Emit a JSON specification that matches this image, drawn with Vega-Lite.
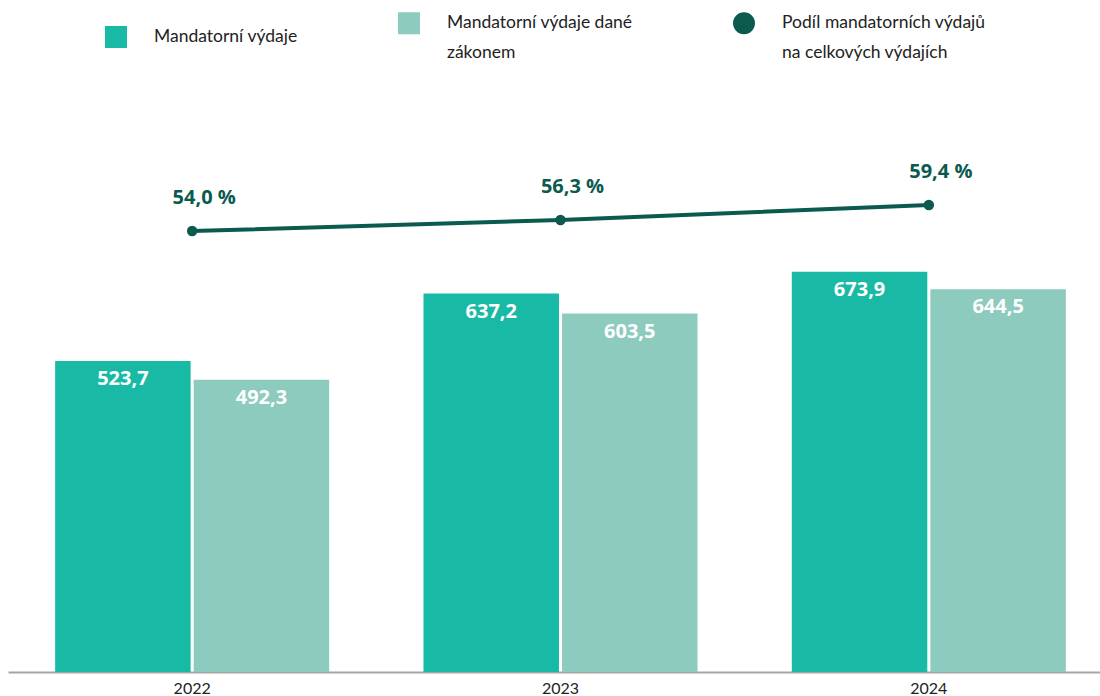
{
  "$schema": "https://vega.github.io/schema/vega-lite/v6.json",
  "width": 1105,
  "height": 582,
  "autosize": {"type": "none"},
  "padding": {"left": 8, "top": 90, "right": 0, "bottom": 24},
  "background": "white",
  "config": {
    "view": {"stroke": null},
    "font": "Lato"
  },
  "datasets": {
    "bars": [
      {"year": "2022", "series": "Mandatorní výdaje", "value": 523.7},
      {"year": "2022", "series": "Mandatorní výdaje dané zákonem", "value": 492.3},
      {"year": "2023", "series": "Mandatorní výdaje", "value": 637.2},
      {"year": "2023", "series": "Mandatorní výdaje dané zákonem", "value": 603.5},
      {"year": "2024", "series": "Mandatorní výdaje", "value": 673.9},
      {"year": "2024", "series": "Mandatorní výdaje dané zákonem", "value": 644.5}
    ],
    "share": [
      {"year": "2022", "share": 54.0},
      {"year": "2023", "share": 56.3},
      {"year": "2024", "share": 59.4}
    ]
  },
  "encoding": {
    "x": {
      "field": "year",
      "type": "nominal",
      "scale": {"paddingInner": 0.256, "paddingOuter": 0.128},
      "axis": {
        "title": null,
        "labelAngle": 0,
        "ticks": false,
        "domainColor": "#a6a6a6",
        "domainWidth": 2,
        "labelFont": "Lato",
        "labelFontSize": 16,
        "labelFontWeight": "normal",
        "labelColor": "#222222",
        "labelPadding": 8,
        "grid": false
      }
    }
  },
  "layer": [
    {
      "data": {"name": "bars"},
      "mark": {"type": "bar"},
      "encoding": {
        "xOffset": {"field": "series", "type": "nominal", "scale": {"paddingInner": 0.022, "paddingOuter": 0}},
        "y": {"field": "value", "type": "quantitative", "scale": {"domain": [0, 980], "nice": false}, "axis": null},
        "color": {
          "field": "series",
          "type": "nominal",
          "scale": {
            "domain": ["Mandatorní výdaje", "Mandatorní výdaje dané zákonem", "Podíl mandatorních výdajů na celkových výdajích"],
            "range": ["#19BAA5", "#8ECBBF", "#0B5A4E"]
          },
          "legend": {
            "title": null,
            "orient": "none",
            "legendX": 97,
            "legendY": -78,
            "direction": "horizontal",
            "columns": 3,
            "columnPadding": 100,
            "symbolSize": 484,
            "symbolStrokeWidth": 0,
            "labelOffset": 27,
            "labelFont": "Lato",
            "labelFontSize": 17.5,
            "labelFontWeight": "normal",
            "labelColor": "#222222",
            "labelLimit": 400,
            "labelBaseline": "middle",
            "labelExpr": "datum.label == 'Mandatorní výdaje dané zákonem' ? ['Mandatorní výdaje dané', 'zákonem'] : (datum.label == 'Mandatorní výdaje' ? datum.label : ['Podíl mandatorních výdajů', 'na celkových výdajích'])",
            "encode": {
              "symbols": {"update": {"shape": {"signal": "datum.value == 'Mandatorní výdaje' || datum.value == 'Mandatorní výdaje dané zákonem' ? 'square' : 'circle'"}}},
              "labels": {"update": {"lineHeight": {"value": 30}}}
            }
          }
        }
      }
    },
    {
      "data": {"name": "bars"},
      "transform": [{"calculate": "replace(format(datum.value, '.1f'), '.', ',')", "as": "label"}],
      "mark": {"type": "text", "color": "white", "font": "Open Sans", "fontSize": 20, "fontWeight": "bold", "baseline": "middle", "dy": 18},
      "encoding": {
        "xOffset": {"field": "series", "type": "nominal", "scale": {"paddingInner": 0.022, "paddingOuter": 0}},
        "y": {"field": "value", "type": "quantitative", "scale": {"domain": [0, 980], "nice": false}, "axis": null},
        "text": {"field": "label"}
      }
    },
    {
      "data": {"name": "share"},
      "mark": {"type": "line", "color": "#0B5A4E", "strokeWidth": 4, "point": {"filled": true, "size": 110, "color": "#0B5A4E"}},
      "encoding": {
        "y": {"field": "share", "type": "quantitative", "scale": {"domain": [-37.6, 83.3], "nice": false, "zero": false}, "axis": null}
      }
    },
    {
      "data": {"name": "share"},
      "transform": [{"calculate": "replace(format(datum.share, '.1f'), '.', ',') + ' %'", "as": "label"}],
      "mark": {"type": "text", "color": "#0B5A4E", "font": "Open Sans", "fontSize": 20, "fontWeight": "bold", "baseline": "middle", "dy": -33, "dx": 12},
      "encoding": {
        "y": {"field": "share", "type": "quantitative", "scale": {"domain": [-37.6, 83.3], "nice": false, "zero": false}, "axis": null},
        "text": {"field": "label"}
      }
    }
  ],
  "resolve": {"scale": {"y": "independent"}}
}
